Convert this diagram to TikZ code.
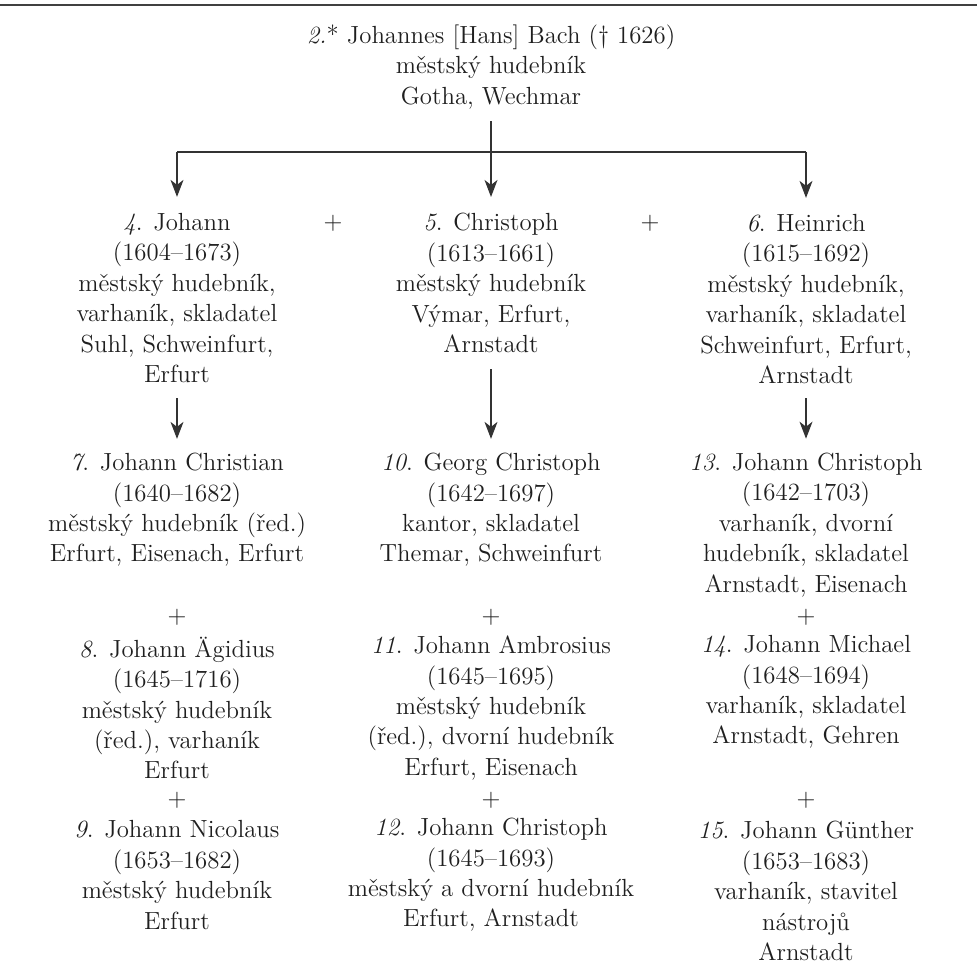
\documentclass[tikz,border=0pt]{standalone}
\usepackage{fontspec}
\usetikzlibrary{arrows.meta}
\begin{document}
\begin{tikzpicture}[x=0.5pt,y=-0.5pt,
  txt/.style={inner sep=0pt,font=\fontsize{12.4}{15.2}\selectfont,text=black!88},
  person/.style={txt,align=center},
  plus/.style={txt},
  conn/.style={draw=black!80,line width=0.6pt},
  arr/.style={conn,-{Stealth[length=8.5pt,width=6.5pt,inset=2.5pt]}}]
\useasboundingbox (0,0) rectangle (977,978);
\draw[black!75,line width=0.8pt] (0,5) -- (977,5);

\node[person] (top) at (491,67) {\textit{2.}* Johannes [Hans] Bach (\textdagger\ 1626)\\městský hudebník\\Gotha, Wechmar};

\node[person] (j4) at (177,298) {\textit{4}. Johann\\(1604–1673)\\městský hudebník,\\varhaník, skladatel\\Suhl, Schweinfurt,\\Erfurt};
\node[person] (c5) at (491,283) {\textit{5}. Christoph\\(1613–1661)\\městský hudebník\\Výmar, Erfurt,\\Arnstadt};
\node[person] (h6) at (806,299) {\textit{6}. Heinrich\\(1615–1692)\\městský hudebník,\\varhaník, skladatel\\Schweinfurt, Erfurt,\\Arnstadt};

\node[person] (p7) at (177,510) {\textit{7}. Johann Christian\\(1640–1682)\\městský hudebník (řed.)\\Erfurt, Eisenach, Erfurt};
\node[person] (p8) at (177,708) {\textit{8}. Johann Ägidius\\(1645–1716)\\městský hudebník\\(řed.), varhaník\\Erfurt};
\node[person] (p9) at (177,875) {\textit{9}. Johann Nicolaus\\(1653–1682)\\městský hudebník\\Erfurt};

\node[person] (p10) at (491,510) {\textit{10}. Georg Christoph\\(1642–1697)\\kantor, skladatel\\Themar, Schweinfurt};
\node[person] (p11) at (491,708) {\textit{11}. Johann Ambrosius\\(1645–1695)\\městský hudebník\\(řed.), dvorní hudebník\\Erfurt, Eisenach};
\node[person] (p12) at (491,875) {\textit{12}. Johann Christoph\\(1645–1693)\\městský a dvorní hudebník\\Erfurt, Arnstadt};

\node[person] (p13) at (806,525) {\textit{13}. Johann Christoph\\(1642–1703)\\varhaník, dvorní\\hudebník, skladatel\\Arnstadt, Eisenach};
\node[person] (p14) at (806,692) {\textit{14}. Johann Michael\\(1648–1694)\\varhaník, skladatel\\Arnstadt, Gehren};
\node[person] (p15) at (806,891) {\textit{15}. Johann Günther\\(1653–1683)\\varhaník, stavitel\\nástrojů\\Arnstadt};

\node[plus] (s1) at (333,223) {+};
\node[plus] (s2) at (650,223) {+};
\node[plus] (s3) at (177,617) {+};
\node[plus] (s4) at (491,617) {+};
\node[plus] (s5) at (806,617) {+};
\node[plus] (s6) at (177,800) {+};
\node[plus] (s7) at (491,800) {+};
\node[plus] (s8) at (806,800) {+};

\coordinate (jL) at (177,152);
\coordinate (jR) at (806,152);
\draw[arr,shorten <=6pt,shorten >=8pt] (top.south) -- (c5.north);
\draw[conn] (jL) -- (jR);
\draw[arr,shorten >=8pt] (jL) -- (j4.north);
\draw[arr,shorten >=8pt] (jR) -- (h6.north);
\draw[arr,shorten <=7.5pt,shorten >=7pt] (j4.south) -- (p7.north);
\draw[arr,shorten <=8pt,shorten >=7pt] (c5.south) -- (p10.north);
\draw[arr,shorten <=7pt,shorten >=7pt] (h6.south) -- (p13.north);
\end{tikzpicture}
\end{document}
